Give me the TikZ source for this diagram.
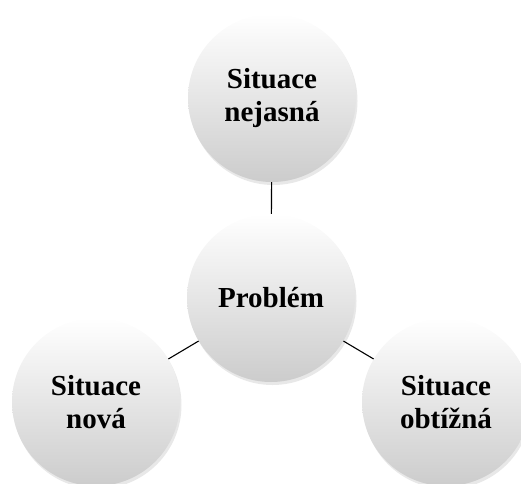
\documentclass[tikz,border=0pt]{standalone}
\usepackage{fontspec}
\setmainfont{Liberation Serif}
\usetikzlibrary{shadows}
\begin{document}
\begin{tikzpicture}[x=1pt,y=-1pt,
  bubble/.style={circle, minimum size=168pt, inner sep=0pt, align=center,
    top color=white, bottom color=black!20, shading angle=0,
    drop shadow={opacity=0.18, shadow xshift=1.5pt, shadow yshift=-3pt},
    font=\bfseries\fontsize{29}{33}\selectfont},
  link/.style={draw=black, line width=1.1pt}]
\useasboundingbox (0,0) rectangle (521,483);
\node[bubble] (t) at (272,98) {Situace\\nejasná};
\node[bubble] (c) at (271,298) {Problém};
\node[bubble] (l) at (96,402) {Situace\\nová};
\node[bubble] (r) at (446,402) {Situace\\obtížná};
\draw[link] (t) -- (c);
\draw[link] (c) -- (l);
\draw[link] (c) -- (r);
\end{tikzpicture}
\end{document}
